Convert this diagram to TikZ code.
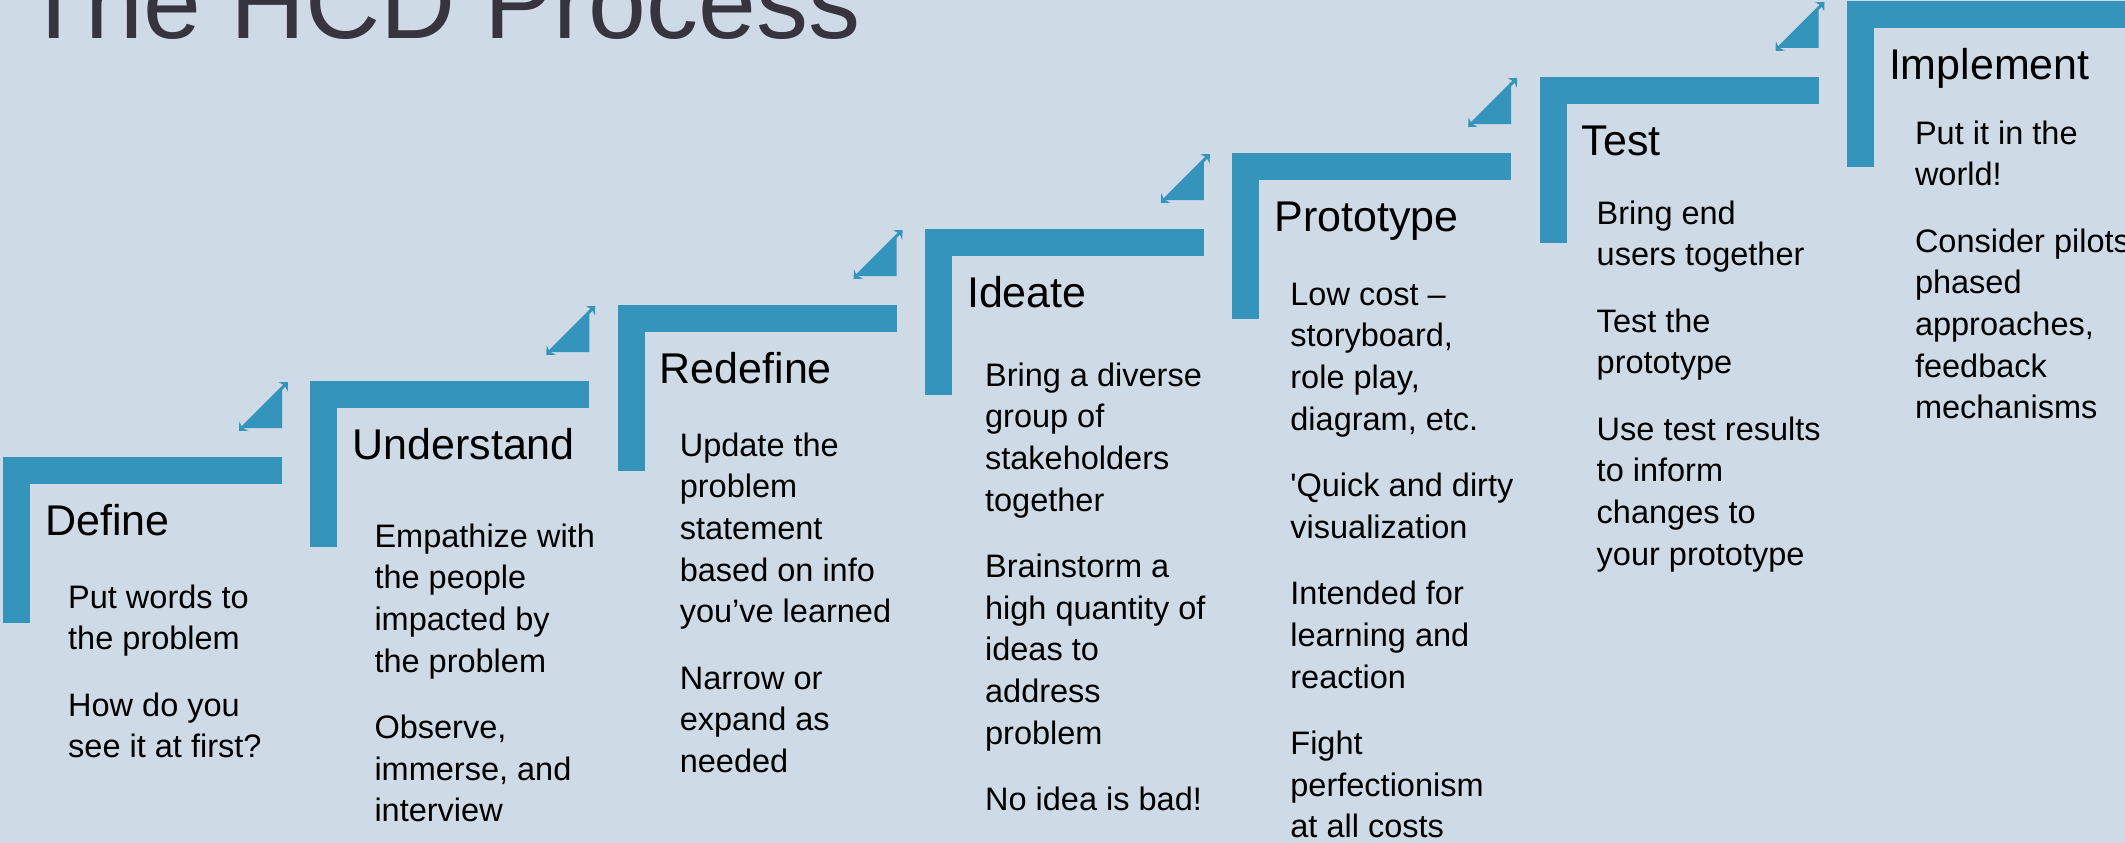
\documentclass[tikz,border=0pt]{standalone}
\usepackage{fontspec}
\setmainfont{Liberation Sans}
\usetikzlibrary{positioning,calc,arrows.meta}

\definecolor{hcdback}{HTML}{CEDAE5}
\definecolor{hcdblue}{HTML}{3594BC}
\definecolor{hcdtitle}{HTML}{37343F}

\newcommand{\stepnotes}[1]{\parbox[t]{300pt}{\raggedright #1}}

\begin{document}
\begin{tikzpicture}[x=1pt, y=1pt,
      stepbar/.style = {fill=hcdblue},
      steptip/.style = {draw=hcdblue, line width=3pt, <->,
         >={Stealth[length=7pt,width=13pt]}},
      phase/.style = {anchor=base west, inner sep=0pt,
         font=\fontsize{43}{48}\selectfont},
      notes/.style = {anchor=base west, inner sep=0pt,
         font=\fontsize{32.5}{41.7}\selectfont}
]
   \fill[hcdback] (0,0) rectangle (2125,-843);
   \useasboundingbox (0,0) rectangle (2125,-843);

   % heading, cut at the top edge
   \node[anchor=base west, inner sep=0pt, text=hcdtitle,
      font=\fontsize{104}{110}\selectfont] (heading) at (22,-39)
      {The HCD Process};

   % corners of the steps
   \coordinate                                     (s1) at (3,-457);
   \coordinate[above right=76pt and 307.3pt of s1] (s2);
   \coordinate[above right=76pt and 307.3pt of s2] (s3);
   \coordinate[above right=76pt and 307.3pt of s3] (s4);
   \coordinate[above right=76pt and 307.3pt of s4] (s5);
   \coordinate[above right=76pt and 307.3pt of s5] (s6);
   \coordinate[above right=76pt and 307.3pt of s6] (s7);

   \foreach \s in {s1,s2,s3,s4,s5,s6,s7}{
      \fill[stepbar] (\s) rectangle ++(279,-27);
      \fill[stepbar] (\s) rectangle ++(27,-166);
   }

   % little arrows up to the next step
   \foreach \s in {s1,s2,s3,s4,s5,s6}{
      \fill[stepbar] ($(\s)+(279,29)$) -- ++(0,40) -- ++(-40,-40) -- cycle;
      \draw[steptip] ($(\s)+(236,26)$) -- ($(\s)+(285,75)$);
   }

   % step names
   \node[phase] (define)     at ($(s1)+(42,-78)$) {Define};
   \node[phase] (understand) at ($(s2)+(42,-78)$) {Understand};
   \node[phase] (redefine)   at ($(s3)+(42,-78)$) {Redefine};
   \node[phase] (ideate)     at ($(s4)+(42,-78)$) {Ideate};
   \node[phase] (prototype)  at ($(s5)+(42,-78)$) {Prototype};
   \node[phase] (test)       at ($(s6)+(42,-78)$) {Test};
   \node[phase] (implement)  at ($(s7)+(42,-78)$) {Implement};

   % notes under each step
   \node[notes] (define-notes) at ($(s1)+(65,-151)$) {\stepnotes{%
      Put words to\\the problem\\[24.7pt]
      How do you\\see it at first?}};
   \node[notes] (understand-notes) at ($(s2)+(64,-166)$) {\stepnotes{%
      Empathize with\\the people\\impacted by\\the problem\\[24.7pt]
      Observe,\\immerse, and\\interview}};
   \node[notes] (redefine-notes) at ($(s3)+(62,-151)$) {\stepnotes{%
      Update the\\problem\\statement\\based on info\\you’ve learned\\[24.7pt]
      Narrow or\\expand as\\needed}};
   \node[notes] (ideate-notes) at ($(s4)+(60,-157)$) {\stepnotes{%
      Bring a diverse\\group of\\stakeholders\\together\\[24.7pt]
      Brainstorm a\\high quantity of\\ideas to\\address\\problem\\[24.7pt]
      No idea is bad!}};
   \node[notes] (prototype-notes) at ($(s5)+(58,-152)$) {\stepnotes{%
      Low cost –\\storyboard,\\role play,\\diagram, etc.\\[24.7pt]
      \textquotesingle Quick and dirty\\visualization\\[24.7pt]
      Intended for\\learning and\\reaction\\[24.7pt]
      Fight\\perfectionism\\at all costs}};
   \node[notes] (test-notes) at ($(s6)+(57,-147)$) {\stepnotes{%
      Bring end\\users together\\[24.7pt]
      Test the\\prototype\\[24.7pt]
      Use test results\\to inform\\changes to\\your prototype}};
   \node[notes] (implement-notes) at ($(s7)+(68,-143)$) {\stepnotes{%
      Put it in the\\world!\\[24.7pt]
      Consider pilots\\phased\\approaches,\\feedback\\mechanisms}};
\end{tikzpicture}
\end{document}
